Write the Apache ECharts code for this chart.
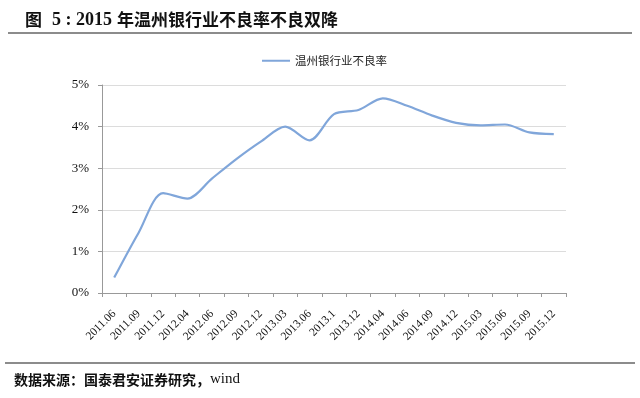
<!DOCTYPE html>
<html>
<head>
<meta charset="utf-8">
<title>2015年温州银行业不良率不良双降</title>
<script src="https://cdn.jsdelivr.net/npm/echarts@6/dist/echarts.min.js"></script>
<style>
body{margin:0;background:#fff;}
#chart{width:640px;height:398px;}
</style>
</head>
<body>
<div id="chart"></div>
<script>
// 月份
var months = ['2011.06','2011.09','2011.12','2012.04','2012.06','2012.09','2012.12','2013.03','2013.06','2013.1',
  '2013.12','2014.04','2014.06','2014.09','2014.12','2015.03','2015.06','2015.09','2015.12'];
// 温州银行业不良率 (%)
var nplRate = [0.37,1.45,2.4,2.27,2.75,3.22,3.64,4.0,3.67,4.3,4.4,4.68,4.5,4.27,4.09,4.03,4.05,3.86,3.82];
var seriesName = '温州银行业不良率';

var chart = echarts.init(document.getElementById('chart'));
var serif = '"Liberation Serif","Times New Roman",serif';
var cjk = '"Noto Sans CJK SC",sans-serif';

var option = {
  animation: false,
  backgroundColor: '#fff',
  title: {
    text: '{c|图}  {d|5 : 2015} {c|年温州银行业不良率不良双降}',
    left: 20, top: 6,
    textStyle: {
      rich: {
        c: {fontFamily: cjk, fontSize: 17, fontWeight: 'bold', color: '#111'},
        d: {fontFamily: serif, fontSize: 18, fontWeight: 'bold', color: '#111'}
      }
    }
  },
  graphic: [
    {type: 'line', shape: {x1: 8, y1: 33, x2: 632, y2: 33}, style: {stroke: '#666', lineWidth: 1.5}},
    {type: 'line', shape: {x1: 5, y1: 363, x2: 635, y2: 363}, style: {stroke: '#666', lineWidth: 1.5}},
    {type: 'text', left: 14, top: 372,
      style: {
        rich: {
          c: {font: 'bold 14px "Noto Sans CJK SC",sans-serif', fill: '#111'},
          e: {font: '15px "Liberation Serif",serif', fill: '#111'}
        },
        text: '{c|数据来源：国泰君安证券研究，}{e|wind}'
      }}
  ],
  legend: {
    data: [seriesName],
    top: 50, left: 257,
    itemWidth: 28, itemHeight: 2,
    itemGap: 4,
    icon: 'rect',
    textStyle: {fontFamily: cjk, fontSize: 11.5, color: '#222'}
  },
  grid: {left: 102, right: 74, top: 85, bottom: 105},
  xAxis: {
    type: 'category',
    data: months,
    boundaryGap: true,
    axisLine: {lineStyle: {color: '#999'}},
    axisTick: {show: true, length: 4, lineStyle: {color: '#999'}},
    axisLabel: {rotate: 45, margin: 19, fontFamily: serif, fontSize: 11.5, color: '#111', interval: 0}
  },
  yAxis: {
    type: 'value',
    min: 0, max: 5, interval: 1,
    axisLine: {show: true, lineStyle: {color: '#999'}},
    axisTick: {show: true, length: 4, lineStyle: {color: '#999'}},
    axisLabel: {formatter: '{value}%', margin: 13, fontFamily: serif, fontSize: 13, color: '#111'},
    splitLine: {lineStyle: {color: '#dcdcdc'}}
  },
  series: [{
    name: seriesName,
    type: 'line',
    data: nplRate,
    smooth: 0.3,
    showSymbol: false,
    symbol: 'none',
    lineStyle: {color: '#80a6da', width: 2.2},
    itemStyle: {color: '#80a6da'}
  }]
};
chart.setOption(option);
</script>
</body>
</html>
